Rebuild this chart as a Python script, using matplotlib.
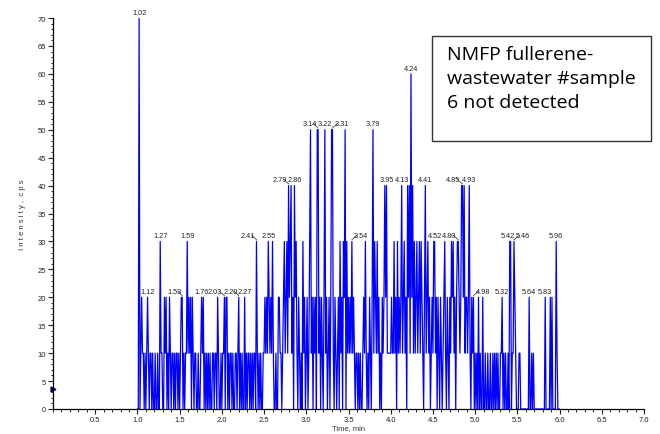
import numpy as np
import matplotlib.pyplot as plt
from matplotlib.patches import Rectangle

# intensity (cps) sampled every 0.01 min, starting at 1.00 min
T0 = 1.00
DT = 0.01
seg_100 = [0, 0, 70, 0, 10, 20, 10, 10, 0, 10,
           0, 10, 20, 10, 0, 10, 10, 0, 10, 0,
           0, 10, 0, 0, 10, 0, 0, 30, 10, 10,
           0, 0, 20, 10, 20, 0, 10, 0, 20, 10,
           0, 10, 10, 0, 10, 0, 10, 10, 0, 10]
seg_150 = [0, 10, 20, 20, 0, 10, 0, 10, 10, 30,
           10, 20, 10, 20, 0, 20, 10, 0, 10, 10,
           0, 0, 10, 0, 0, 10, 20, 10, 20, 0,
           10, 0, 10, 0, 10, 0, 10, 0, 0, 10,
           10, 0, 10, 10, 0, 20, 10, 0, 0, 10]
seg_200 = [0, 10, 10, 20, 0, 20, 20, 0, 10, 0,
           10, 10, 0, 10, 0, 0, 10, 10, 0, 10,
           20, 0, 10, 0, 10, 0, 0, 20, 0, 10,
           0, 10, 10, 0, 10, 0, 10, 0, 10, 10,
           0, 30, 10, 0, 10, 0, 10, 0, 0, 10]
seg_250 = [10, 20, 10, 20, 10, 30, 20, 10, 20, 10,
           30, 10, 0, 0, 10, 0, 0, 20, 20, 10,
           10, 0, 10, 20, 30, 10, 20, 30, 10, 40,
           20, 30, 40, 10, 20, 0, 40, 20, 30, 10,
           0, 20, 10, 0, 10, 0, 30, 10, 20, 0]
seg_300 = [10, 20, 0, 10, 30, 50, 10, 20, 0, 20,
           10, 20, 0, 50, 50, 10, 20, 0, 20, 10,
           0, 20, 50, 10, 20, 0, 10, 20, 0, 20,
           50, 50, 10, 0, 20, 10, 0, 10, 20, 0,
           30, 10, 20, 0, 30, 20, 50, 0, 30, 10]
seg_350 = [20, 10, 20, 10, 30, 10, 20, 10, 0, 10,
           10, 0, 10, 0, 10, 0, 0, 10, 20, 10,
           30, 10, 0, 10, 0, 20, 10, 0, 20, 50,
           10, 30, 20, 10, 30, 10, 20, 0, 10, 0,
           20, 10, 20, 40, 20, 40, 10, 10, 10, 10]
seg_400 = [10, 20, 10, 10, 30, 10, 20, 0, 30, 10,
           20, 10, 20, 40, 10, 20, 30, 10, 20, 0,
           40, 20, 40, 10, 60, 20, 40, 10, 30, 10,
           20, 30, 10, 20, 30, 10, 30, 20, 10, 0,
           20, 40, 10, 20, 30, 10, 20, 0, 10, 20]
seg_450 = [10, 30, 30, 10, 20, 0, 20, 10, 0, 20,
           10, 0, 10, 20, 30, 10, 0, 20, 10, 0,
           20, 10, 30, 20, 30, 10, 20, 0, 20, 30,
           30, 20, 10, 20, 40, 40, 20, 40, 10, 20,
           20, 10, 20, 40, 10, 0, 20, 10, 20, 0]
seg_500 = [10, 0, 10, 0, 20, 0, 10, 0, 0, 20,
           0, 0, 10, 0, 0, 10, 0, 0, 10, 0,
           0, 10, 0, 10, 0, 10, 0, 10, 0, 0,
           10, 10, 20, 0, 10, 0, 10, 0, 0, 10,
           0, 30, 30, 0, 10, 10, 30, 20, 10, 0]
seg_550 = [0, 0, 10, 10, 0, 0, 0, 0, 0, 0,
           0, 0, 0, 0, 20, 0, 0, 10, 0, 10,
           0, 0, 0, 0, 0, 0, 0, 0, 0, 0,
           0, 0, 0, 20, 0, 0, 0, 0, 0, 20,
           0, 20, 0, 0, 0, 0, 30, 10, 0, 0, 0]

peak_times = [1.02, 1.12, 1.27, 1.53, 1.59, 1.76, 2.03, 2.20, 2.27, 2.41,
              2.55, 2.79, 2.86, 3.14, 3.22, 3.31, 3.54, 3.79, 3.95, 4.13,
              4.24, 4.41, 4.52, 4.80, 4.85, 4.93, 4.98, 5.32, 5.42, 5.46,
              5.64, 5.83, 5.96]

note = "NMFP fullerene-\nwastewater #sample\n6 not detected"

# crowded labels are pushed sideways (min), like the instrument software does
label_shift = {1.53: -0.095, 2.03: -0.115, 2.20: -0.10, 2.41: -0.10, 2.79: -0.10,
               3.14: -0.10, 3.31: 0.11, 3.54: 0.11, 4.80: -0.11, 4.85: -0.11,
               4.98: 0.11, 5.42: -0.03, 5.46: 0.11}

inten = np.array(seg_100 + seg_150 + seg_200 + seg_250 + seg_300 +
                 seg_350 + seg_400 + seg_450 + seg_500 + seg_550, dtype=float)
t = T0 + DT * np.arange(len(inten))

plt.rcParams['font.family'] = ['Liberation Sans', 'DejaVu Sans']

fig = plt.figure(figsize=(6.6, 4.35), dpi=100)
ax = fig.add_axes([53/660., 1 - 410/435., (644 - 53)/660., (410 - 19)/435.])

ax.plot(t, inten, color='#0000ff', linewidth=0.9)

for pt in peak_times:
    i = int(round((pt - T0) / DT))
    dx = label_shift.get(pt, 0.0)
    ax.text(pt + dx, inten[i] + 0.4, "%.2f" % pt, fontsize=5.3, ha='center',
            va='bottom', color='#222222')
    if abs(dx) > 0.05:
        # short leader from label to peak
        ax.plot([pt + dx * 0.55, pt], [inten[i] + 1.1, inten[i] + 0.3],
                color='#222222', linewidth=0.5)

ax.set_xlim(0, 7.0)
ax.set_ylim(0, 70)
ax.set_xticks(np.arange(0.5, 7.01, 0.5))
ax.set_xticks(np.arange(0, 7.01, 0.1), minor=True)
ax.set_yticks(np.arange(0, 71, 5))
ax.set_yticks(np.arange(0, 71, 1), minor=True)
ax.tick_params(which='major', length=3.5, width=0.8, labelsize=5.5, colors='#222222', pad=1.5)
ax.tick_params(which='minor', length=1.8, width=0.6)
for s in ['top', 'right']:
    ax.spines[s].set_visible(False)
for s in ['left', 'bottom']:
    ax.spines[s].set_linewidth(0.9)

ax.set_xlabel('Time, min', fontsize=5.5, color='#333333', labelpad=1)
ax.set_ylabel('I n t e n s i t y ,  c p s', fontsize=5.5, color='#333333', labelpad=8)

# small start marker on the y axis
ax.plot([0.0], [3.5], marker='>', markersize=3.5, color='#000060', clip_on=False)

# annotation box
fig.patches.append(Rectangle((432/660., 1 - 142/435.), (651 - 432)/660., (142 - 37)/435.,
                             transform=fig.transFigure, fill=False,
                             edgecolor='#333333', linewidth=1.0))
fig.text(447/660., 1 - 46/435., note, fontsize=14, family=['Open Sans', 'DejaVu Sans'],
         va='top', ha='left', linespacing=1.42)

plt.savefig('out.png', dpi=100)
